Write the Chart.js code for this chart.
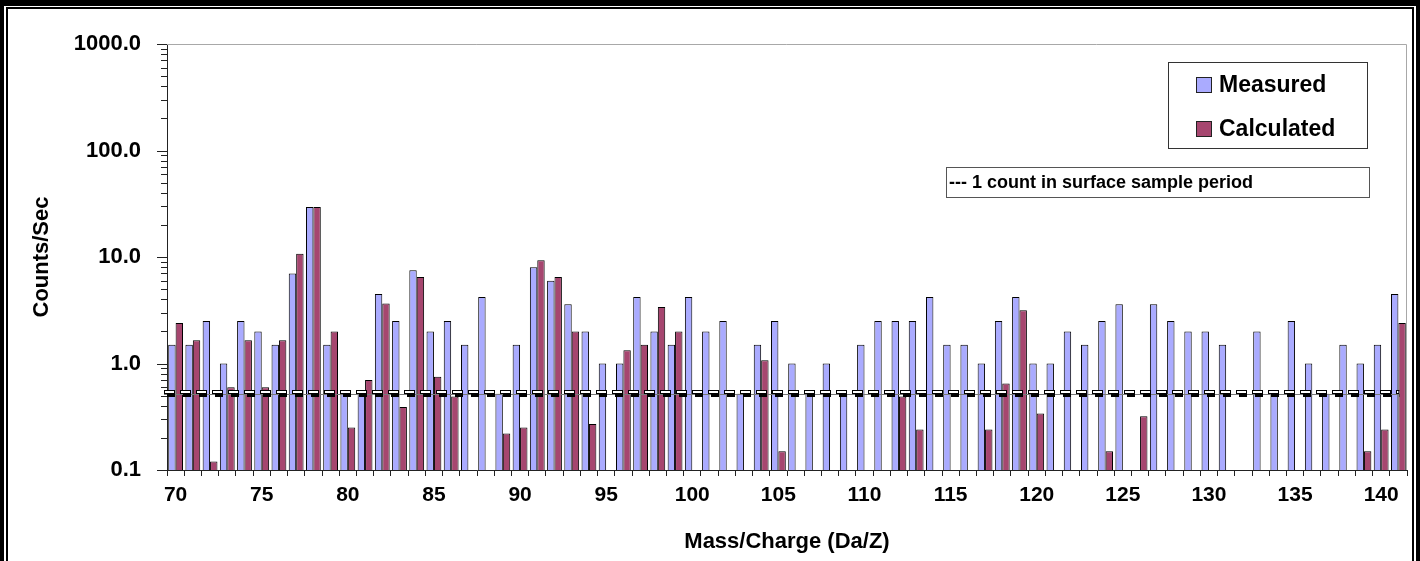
<!DOCTYPE html>
<html>
<head>
<meta charset="utf-8">
<script src="https://cdn.jsdelivr.net/npm/chart.js@4.4.1/dist/chart.umd.min.js"></script>
<style>
  html, body { margin: 0; padding: 0; background: #ffffff; }
  #wrap { width: 1420px; height: 561px; }
</style>
</head>
<body>
<div id="wrap"><canvas id="chart" width="1420" height="561"></canvas></div>
<script>
// Mass/charge bins (Da/Z)
const massCharge = [
  '70','71','72','73','74','75','76','77','78','79',
  '80','81','82','83','84','85','86','87','88','89',
  '90','91','92','93','94','95','96','97','98','99',
  '100','101','102','103','104','105','106','107','108','109',
  '110','111','112','113','114','115','116','117','118','119',
  '120','121','122','123','124','125','126','127','128','129',
  '130','131','132','133','134','135','136','137','138','139',
  '140','141'
];

// Count rates (counts/sec); null = nothing above the axis floor
const measured = [
  1.5, 1.5, 2.5, 1.0, 2.5, 2.0, 1.5, 7.0, 29.4, 1.5,
  0.52, 0.52, 4.5, 2.5, 7.5, 2.0, 2.5, 1.5, 4.2, 0.52,
  1.5, 8.0, 6.0, 3.6, 2.0, 1.0, 1.0, 4.2, 2.0, 1.5,
  4.2, 2.0, 2.5, 0.52, 1.5, 2.5, 1.0, 0.52, 1.0, 0.52,
  1.5, 2.5, 2.5, 2.5, 4.2, 1.5, 1.5, 1.0, 2.5, 4.2,
  1.0, 1.0, 2.0, 1.5, 2.5, 3.6, null, 3.6, 2.5, 2.0,
  2.0, 1.5, null, 2.0, 0.52, 2.5, 1.0, 0.52, 1.5, 1.0,
  1.5, 4.5
];

const calculated = [
  2.4, 1.65, 0.12, 0.6, 1.65, 0.6, 1.65, 10.7, 29.4, 2.0,
  0.25, 0.7, 3.65, 0.39, 6.5, 0.75, 0.49, null, null, 0.22,
  0.25, 9.3, 6.5, 2.0, 0.27, null, 1.33, 1.5, 3.4, 2.0,
  null, null, null, null, 1.07, 0.15, null, null, null, null,
  null, null, 0.49, 0.24, null, null, null, 0.24, 0.65, 3.16,
  0.34, null, null, null, 0.15, null, 0.32, null, null, null,
  null, null, null, null, null, null, null, null, null, 0.15,
  0.24, 2.4
];

const yTickValues = [0.1, 1, 10, 100, 1000];
const yTickLabels = ['0.1', '1.0', '10.0', '100.0', '1000.0'];
const xTickLabels = ['70','75','80','85','90','95','100','105','110','115','120','125','130','135','140'];

const seriesNames = ['Measured', 'Calculated'];
const seriesFill = ['#aaabff', '#a6466f'];
const oneCountLevel = 0.52;
const oneCountNote = '--- 1 count in surface sample period';

const FONT = "'Liberation Sans', Arial, Helvetica, sans-serif";
Chart.defaults.font.family = FONT;
Chart.defaults.color = '#000';

// Page frame, plot border, minor ticks, threshold line and legend boxes
const decorations = {
  id: 'decorations',
  beforeDraw(chart) {
    const { ctx, width, height } = chart;
    ctx.save();
    ctx.fillStyle = '#000';
    ctx.fillRect(0, 0, width, height);
    ctx.fillStyle = '#fff';
    ctx.fillRect(4, 6, width - 8, height);
    ctx.fillStyle = '#000';
    ctx.fillRect(6, 7, width - 12, height);
    ctx.fillStyle = '#fff';
    ctx.fillRect(8, 9, width - 16, height);
    ctx.restore();
  },
  beforeDatasetsDraw(chart) {
    const { ctx, chartArea: a } = chart;
    ctx.save();
    ctx.strokeStyle = '#a8a8a8';
    ctx.lineWidth = 1;
    ctx.beginPath();
    ctx.moveTo(a.left, a.top + 0.5);
    ctx.lineTo(a.right - 0.5, a.top + 0.5);
    ctx.lineTo(a.right - 0.5, a.bottom);
    ctx.stroke();
    ctx.restore();
  },
  afterDatasetsDraw(chart) {
    const { ctx, chartArea: a } = chart;
    const xs = chart.scales.x, ys = chart.scales.y;
    const y0 = Math.round(ys.getPixelForValue(oneCountLevel));
    const xStart = a.left - 3;
    const xEnd = xs.getPixelForValue(massCharge.length - 1) + 1;
    ctx.save();
    ctx.strokeStyle = '#7a7a7a';
    ctx.lineWidth = 1;
    ctx.beginPath();
    ctx.moveTo(xStart, y0 + 0.5);
    ctx.lineTo(xEnd, y0 + 0.5);
    ctx.stroke();
    for (let x = xStart; x < xEnd - 3; x += 16) {
      const w = Math.min(11, xEnd - x);
      ctx.fillStyle = '#fff';
      ctx.fillRect(x, y0 - 3, w, 3);
      ctx.strokeStyle = '#000';
      ctx.strokeRect(x + 0.5, y0 - 3.5, w - 1, 3);
      ctx.fillStyle = '#000';
      ctx.fillRect(x + 3, y0, Math.max(0, Math.min(8, xEnd - x - 3)), 3);
    }
    ctx.restore();
  },
  afterDraw(chart) {
    const { ctx, chartArea: a } = chart;
    const ys = chart.scales.y;
    ctx.save();
    // log-axis tick marks: long at decades, short in between
    ctx.strokeStyle = '#222';
    ctx.lineWidth = 1;
    ctx.beginPath();
    for (let i = 0; i < yTickValues.length; i++) {
      const d = yTickValues[i];
      const yy = Math.round(ys.getPixelForValue(d)) + 0.5;
      ctx.moveTo(a.left - 10, yy);
      ctx.lineTo(a.left, yy);
      if (i < yTickValues.length - 1) {
        for (let m = 2; m <= 9; m++) {
          const ym = Math.round(ys.getPixelForValue(d * m)) + 0.5;
          ctx.moveTo(a.left - 6, ym);
          ctx.lineTo(a.left, ym);
        }
      }
    }
    ctx.stroke();

    // series legend
    ctx.fillStyle = '#fff';
    ctx.fillRect(1168, 62, 199, 86);
    ctx.strokeStyle = '#333';
    ctx.strokeRect(1168.5, 62.5, 199, 86);
    const rows = [85, 129];
    ctx.font = `bold 23px ${FONT}`;
    ctx.textBaseline = 'middle';
    ctx.textAlign = 'left';
    for (let i = 0; i < seriesNames.length; i++) {
      const sy = rows[i] - 8;
      ctx.fillStyle = seriesFill[i];
      ctx.fillRect(1196, sy, 16, 16);
      ctx.strokeStyle = '#222';
      ctx.strokeRect(1196.5, sy + 0.5, 15, 15);
      ctx.fillStyle = '#000';
      ctx.fillText(seriesNames[i], 1219, rows[i] + 1);
    }

    // threshold note
    ctx.fillStyle = '#fff';
    ctx.fillRect(946, 167, 423, 30);
    ctx.strokeStyle = '#555';
    ctx.strokeRect(946.5, 167.5, 423, 30);
    ctx.fillStyle = '#000';
    ctx.font = `bold 18px ${FONT}`;
    ctx.fillText(oneCountNote, 949, 183, 305);
    ctx.restore();
  }
};

new Chart(document.getElementById('chart'), {
  type: 'bar',
  data: {
    labels: massCharge,
    datasets: [
      {
        label: seriesNames[0],
        data: measured,
        backgroundColor: seriesFill[0],
        borderColor: '#000',
        borderWidth: 1,
        categoryPercentage: 0.86,
        barPercentage: 1.0
      },
      {
        label: seriesNames[1],
        data: calculated,
        backgroundColor: seriesFill[1],
        borderColor: '#000',
        borderWidth: 1,
        categoryPercentage: 0.86,
        barPercentage: 1.0
      }
    ]
  },
  options: {
    responsive: false,
    animation: false,
    events: [],
    layout: { padding: { left: 0, top: 44, right: 13, bottom: 0 } },
    plugins: {
      legend: { display: false },
      tooltip: { enabled: false }
    },
    scales: {
      x: {
        type: 'category',
        grid: {
          offset: true,
          drawOnChartArea: false,
          drawTicks: true,
          tickLength: 6,
          color: '#222',
          lineWidth: 1
        },
        border: { color: '#222', width: 1 },
        ticks: {
          autoSkip: false,
          maxRotation: 0,
          minRotation: 0,
          padding: 7,
          font: { size: 21, weight: 'bold' },
          color: '#000',
          callback(value) {
            const lab = this.getLabelForValue(value);
            return xTickLabels.includes(lab) ? lab : '';
          }
        },
        title: {
          display: true,
          text: 'Mass/Charge (Da/Z)',
          font: { size: 22, weight: 'bold' },
          color: '#000',
          padding: { top: 0, bottom: 6 }
        },
        afterFit(scale) { scale.height = 91; }
      },
      y: {
        type: 'logarithmic',
        min: 0.1,
        max: 1000,
        grid: { drawOnChartArea: false, drawTicks: false },
        border: { color: '#222', width: 1 },
        afterBuildTicks(scale) {
          scale.ticks = yTickValues.map(v => ({ value: v }));
        },
        ticks: {
          autoSkip: false,
          padding: 26,
          font: { size: 22, weight: 'bold' },
          color: '#000',
          callback(value) {
            const i = yTickValues.findIndex(v => Math.abs(v - value) < 1e-9);
            return i >= 0 ? yTickLabels[i] : '';
          }
        },
        title: {
          display: true,
          text: 'Counts/Sec',
          font: { size: 22, weight: 'bold' },
          color: '#000',
          padding: { top: 29, bottom: 0 }
        },
        afterFit(scale) { scale.width = 167; }
      }
    }
  },
  plugins: [decorations]
});
</script>
</body>
</html>
